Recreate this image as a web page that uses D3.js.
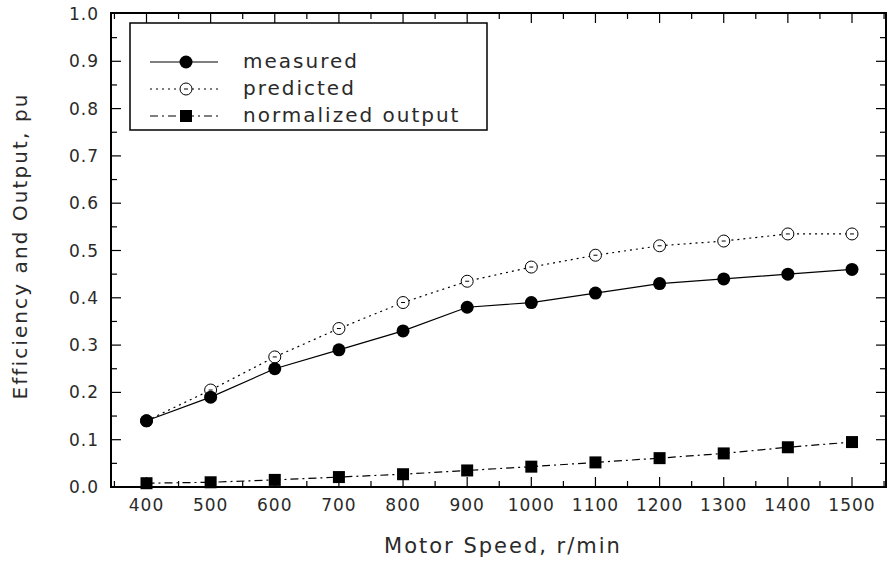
<!DOCTYPE html>
<html>
<head>
<meta charset="utf-8">
<script src="https://cdn.jsdelivr.net/npm/d3@7"></script>
<style>
body { margin: 0; background: #fff; }
text { font-family: "DejaVu Sans", sans-serif; fill: #2a2a2a; }
</style>
</head>
<body>
<script>
// Data
var speeds = [400, 500, 600, 700, 800, 900, 1000, 1100, 1200, 1300, 1400, 1500];
var measured = [0.14, 0.19, 0.25, 0.29, 0.33, 0.38, 0.39, 0.41, 0.43, 0.44, 0.45, 0.46];
var predicted = [0.14, 0.205, 0.275, 0.335, 0.39, 0.435, 0.465, 0.49, 0.51, 0.52, 0.535, 0.535];
var output = [0.008, 0.01, 0.015, 0.021, 0.027, 0.035, 0.043, 0.052, 0.061, 0.071, 0.084, 0.095];
var yTicks = [0, 0.1, 0.2, 0.3, 0.4, 0.5, 0.6, 0.7, 0.8, 0.9, 1.0];
var legendNames = ["measured", "predicted", "normalized output"];

var W = 888, H = 561;
var mLeft = 111, mRight = 886, mTop = 13, mBottom = 487;

var svg = d3.select("body").append("svg").attr("width", W).attr("height", H);

// x: 400 sits at 146.5, 1500 at 852
var x = d3.scaleLinear().domain([400, 1500]).range([146.5, 852]);
var xMin = x.invert(mLeft), xMax = x.invert(mRight);
x.domain([xMin, xMax]).range([mLeft, mRight]);
var y = d3.scaleLinear().domain([0, 1]).range([mBottom, mTop + 1]);

var xMajor = d3.range(400, 1501, 100);
var xMinor = d3.range(350, 1551, 100).filter(function(v) { return v > xMin && v < xMax; });
var yMinor = d3.range(0.05, 1, 0.1);

// Frame
svg.append("rect").attr("x", mLeft).attr("y", mTop).attr("width", mRight - mLeft).attr("height", mBottom - mTop)
    .attr("fill", "none").attr("stroke", "#000").attr("stroke-width", 2);

// Inward ticks on all four sides
var ticks = svg.append("g").attr("stroke", "#000").attr("stroke-width", 1.2);
xMajor.forEach(function(v) {
    ticks.append("line").attr("x1", x(v)).attr("x2", x(v)).attr("y1", mBottom).attr("y2", mBottom - 10);
    ticks.append("line").attr("x1", x(v)).attr("x2", x(v)).attr("y1", mTop).attr("y2", mTop + 10);
});
xMinor.forEach(function(v) {
    ticks.append("line").attr("x1", x(v)).attr("x2", x(v)).attr("y1", mBottom).attr("y2", mBottom - 6);
    ticks.append("line").attr("x1", x(v)).attr("x2", x(v)).attr("y1", mTop).attr("y2", mTop + 6);
});
yTicks.slice(1, -1).forEach(function(v) {
    ticks.append("line").attr("x1", mLeft).attr("x2", mLeft + 10).attr("y1", y(v)).attr("y2", y(v));
    ticks.append("line").attr("x1", mRight).attr("x2", mRight - 10).attr("y1", y(v)).attr("y2", y(v));
});
yMinor.forEach(function(v) {
    ticks.append("line").attr("x1", mLeft).attr("x2", mLeft + 6).attr("y1", y(v)).attr("y2", y(v));
    ticks.append("line").attr("x1", mRight).attr("x2", mRight - 6).attr("y1", y(v)).attr("y2", y(v));
});

// Tick labels
svg.append("g").selectAll("text").data(xMajor).enter().append("text")
    .attr("x", function(d) { return x(d); }).attr("y", mBottom + 24)
    .attr("text-anchor", "middle").attr("font-size", 17).attr("letter-spacing", 1)
    .text(function(d) { return d; });
svg.append("g").selectAll("text").data(yTicks).enter().append("text")
    .attr("x", mLeft - 12).attr("y", function(d) { return y(d) + 6; })
    .attr("text-anchor", "end").attr("font-size", 17).attr("letter-spacing", 1)
    .text(function(d) { return d.toFixed(1); });

// Axis titles
svg.append("text").attr("x", 503).attr("y", 553).attr("text-anchor", "middle")
    .attr("font-size", 21).attr("letter-spacing", 2).text("Motor Speed, r/min");
svg.append("text").attr("transform", "translate(27,246) rotate(-90)")
    .attr("text-anchor", "middle").attr("font-size", 20).attr("letter-spacing", 2.1)
    .text("Efficiency and Output, pu");

// Series (measured last so its dots sit on top)
var styles = [
    { values: measured, dash: null, marker: "dot" },
    { values: predicted, dash: "2,4", marker: "open" },
    { values: output, dash: "8,4,2,4", marker: "square" }
];

function drawMarker(g, type, cx, cy) {
    if (type === "dot") {
        g.append("circle").attr("cx", cx).attr("cy", cy).attr("r", 6.5).attr("fill", "#000");
    } else if (type === "open") {
        g.append("circle").attr("cx", cx).attr("cy", cy).attr("r", 6).attr("fill", "#fff")
            .attr("stroke", "#000").attr("stroke-width", 1);
        g.append("line").attr("x1", cx - 2).attr("x2", cx + 2).attr("y1", cy).attr("y2", cy)
            .attr("stroke", "#000").attr("stroke-width", 1);
    } else {
        g.append("rect").attr("x", cx - 6).attr("y", cy - 6).attr("width", 12).attr("height", 12).attr("fill", "#000");
    }
}

var line = d3.line().x(function(d) { return x(d[0]); }).y(function(d) { return y(d[1]); });

[1, 2, 0].forEach(function(k) {
    var s = styles[k];
    var pts = speeds.map(function(v, i) { return [v, s.values[i]]; });
    svg.append("path").datum(pts).attr("d", line).attr("fill", "none")
        .attr("stroke", "#000").attr("stroke-width", 1.2).attr("stroke-dasharray", s.dash);
    var g = svg.append("g");
    pts.forEach(function(p) { drawMarker(g, s.marker, x(p[0]), y(p[1])); });
});

// Legend
var lg = svg.append("g");
lg.append("rect").attr("x", 130).attr("y", 23).attr("width", 357).attr("height", 107)
    .attr("fill", "#fff").attr("stroke", "#000").attr("stroke-width", 1.5);
legendNames.forEach(function(name, i) {
    var ly = 62 + i * 27;
    lg.append("line").attr("x1", 150).attr("x2", 218).attr("y1", ly).attr("y2", ly)
        .attr("stroke", "#000").attr("stroke-width", 1.2).attr("stroke-dasharray", styles[i].dash);
    drawMarker(lg, styles[i].marker, 186, ly);
    lg.append("text").attr("x", 243).attr("y", ly + 6).attr("font-size", 20).attr("letter-spacing", 2).text(name);
});
</script>
</body>
</html>
